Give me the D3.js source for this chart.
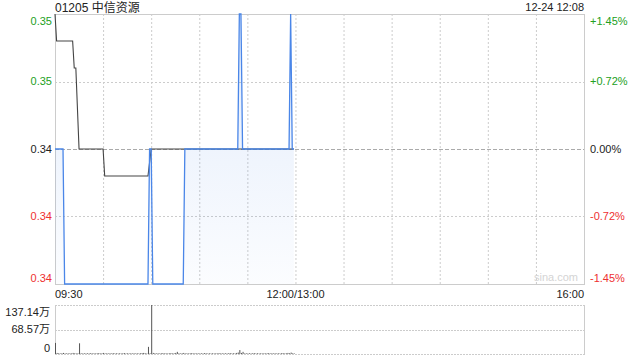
<!DOCTYPE html>
<html>
<head>
<meta charset="utf-8">
<script src="https://cdn.jsdelivr.net/npm/d3@7"></script>
<style>
  html, body { margin: 0; padding: 0; background: #fff; }
  svg text { font-family: Arial, "Liberation Sans", "Noto Sans CJK SC", sans-serif; }
</style>
</head>
<body>
<svg id="chart" width="640" height="360"></svg>
<script>
// ---------- data ----------
const title = "01205 中信资源";
const stamp = "12-24 12:08";
const prevClose = 0.345;
const priceDomain = [0.340, 0.350];
const priceTickValues = [0.350, 0.3475, 0.345, 0.3425, 0.340];
const priceTickLabels = ["0.35", "0.35", "0.34", "0.34", "0.34"];
const pctTickLabels = ["+1.45%", "+0.72%", "0.00%", "-0.72%", "-1.45%"];
const timeLabels = ["09:30", "12:00/13:00", "16:00"];
const volTickValues = [137.14, 68.57, 0];
const volTickLabels = ["137.14万", "68.57万", "0"];

// blue (price) line, change points
const blueTimes = ["09:30","09:35","09:36","10:28","10:29","10:30","10:31","10:50","10:51","11:24","11:25","11:26","11:27","11:56","11:57","11:58","11:59"];
const blueValues = [0.345,0.345,0.340,0.340,0.345,0.345,0.340,0.340,0.345,0.345,0.350,0.350,0.345,0.345,0.350,0.345,0.345];

// dark line, change points
const darkTimes = ["09:30","09:31","09:41","09:42","09:43","09:45","10:00","10:01","10:28","10:30","11:59"];
const darkValues = [0.350,0.349,0.349,0.348,0.348,0.345,0.345,0.344,0.344,0.345,0.345];

// volume per minute from 09:30 (unit: 万)
const volumes = [
  31, 3, 2, 1.5, 2, 3, 1.5, 2, 1.5, 2,
  1.5, 3, 2, 1.5, 2, 30, 2, 1.5, 2, 1.5,
  2, 1.5, 2.5, 1.5, 2, 1.5, 2, 2.5, 1.5, 2,
  3, 1.5, 2, 1.5, 2, 1.5, 2.5, 1.5, 2, 1.5,
  2, 1.5, 2, 2.5, 1.5, 2, 1.5, 2, 1.5, 2,
  1.5, 2, 1.5, 2, 2.5, 3, 2, 1.5, 20, 2,
  137.14, 3, 2, 1.5, 2, 1.5, 2, 2.5, 1.5, 2,
  1.5, 2, 2.5, 1.5, 2, 3, 6, 2, 1.5, 2,
  3, 1.5, 2, 1.5, 2, 2.5, 1.5, 2, 1.5, 2,
  1.5, 2, 1.5, 2.5, 2, 1.5, 2, 1.5, 2, 1.5,
  2, 1.5, 2.5, 1.5, 2, 1.5, 2, 1.5, 2, 2.5,
  1.5, 2, 1.5, 3, 4, 11, 3, 6, 1.5, 2,
  1.5, 2, 1.5, 2, 2.5, 1.5, 2, 1.5, 2, 1.5,
  2, 1.5, 2, 2.5, 1.5, 2, 1.5, 2, 1.5, 2,
  1.5, 2, 2.5, 1.5, 2, 3, 2, 4, 2, 1.5
];

// ---------- helpers ----------
function minuteIndex(t) {
  const [h, m] = t.split(":").map(Number);
  const abs = h * 60 + m;
  const start = 9 * 60 + 30;
  if (abs <= 12 * 60) return abs - start;
  return abs - start - 60;
}

// ---------- layout ----------
const L = 55, R = 584, T = 14, B = 284;
const VT = 305, VB = 354;
const green = "#22a022", red = "#ee3030", dark = "#222";

const svg = d3.select("#chart");
const x = d3.scaleLinear().domain([0, 330]).range([L, R]);
const y = d3.scaleLinear().domain(priceDomain).range([B, T]);
const yv = d3.scaleLinear().domain([0, 137.14]).range([VB, VT]);

// gradient
const defs = svg.append("defs");
const grad = defs.append("linearGradient").attr("id", "fillGrad")
  .attr("x1", 0).attr("y1", 0).attr("x2", 0).attr("y2", 1)
  .attr("gradientUnits", "userSpaceOnUse")
  .attr("x1", 0).attr("y1", T).attr("x2", 0).attr("y2", B);
grad.append("stop").attr("offset", "0%").attr("stop-color", "#4a86e8").attr("stop-opacity", 0.16);
grad.append("stop").attr("offset", "100%").attr("stop-color", "#4a86e8").attr("stop-opacity", 0.02);

// grid - main
const gridTimes = d3.range(30, 330, 30);
svg.append("g").selectAll("line").data(gridTimes).join("line")
  .attr("x1", d => x(d) + 0.5).attr("x2", d => x(d) + 0.5)
  .attr("y1", T).attr("y2", B)
  .attr("stroke", "#ccc").attr("stroke-width", 1).attr("stroke-dasharray", "2,2");
svg.append("g").selectAll("line").data(priceTickValues.slice(1, 4)).join("line")
  .attr("x1", L).attr("x2", R)
  .attr("y1", d => Math.round(y(d)) + 0.5).attr("y2", d => Math.round(y(d)) + 0.5)
  .attr("stroke", d => d === prevClose ? "#aaa" : "#ccc")
  .attr("stroke-width", 1)
  .attr("stroke-dasharray", d => d === prevClose ? "4,2" : "2,2");

// borders main
svg.append("rect").attr("x", L + 0.5).attr("y", T + 0.5).attr("width", R - L).attr("height", B - T)
  .attr("fill", "none").attr("stroke", "#ccc").attr("stroke-width", 1);

// watermark
svg.append("text").attr("x", R - 6).attr("y", B - 3).attr("text-anchor", "end")
  .attr("font-size", 11).attr("fill", "#d4d4d4").text("sina.com");

// area + lines
const bluePts = blueTimes.map((t, i) => [minuteIndex(t), blueValues[i]]);
const darkPts = darkTimes.map((t, i) => [minuteIndex(t), darkValues[i]]);

svg.append("path").datum(bluePts)
  .attr("d", d3.area().x(d => x(d[0])).y0(B).y1(d => y(d[1])))
  .attr("fill", "url(#fillGrad)");

svg.append("path").datum(darkPts)
  .attr("d", d3.line().x(d => x(d[0])).y(d => y(d[1])))
  .attr("fill", "none").attr("stroke", "#444").attr("stroke-width", 1.1);

svg.append("path").datum(bluePts)
  .attr("d", d3.line().x(d => x(d[0])).y(d => y(d[1])))
  .attr("fill", "none").attr("stroke", "#4a86e8").attr("stroke-width", 1.3);

// left / right labels
const clampY = v => Math.max(T + 7, Math.min(B - 6, v));
svg.append("g").selectAll("text").data(priceTickValues).join("text")
  .attr("x", L - 3).attr("y", d => clampY(y(d)))
  .attr("dy", "0.35em").attr("text-anchor", "end").attr("font-size", 11)
  .attr("fill", d => d > prevClose ? green : d < prevClose ? red : dark)
  .text((d, i) => priceTickLabels[i]);
svg.append("g").selectAll("text").data(priceTickValues).join("text")
  .attr("x", R + 6).attr("y", d => clampY(y(d)))
  .attr("dy", "0.35em").attr("text-anchor", "start").attr("font-size", 11)
  .attr("fill", d => d > prevClose ? green : d < prevClose ? red : dark)
  .text((d, i) => pctTickLabels[i]);

// time labels
const tPos = [0, 150, 330];
const tAnchor = ["start", "middle", "end"];
svg.append("g").selectAll("text").data(timeLabels).join("text")
  .attr("x", (d, i) => x(tPos[i])).attr("y", 298)
  .attr("text-anchor", (d, i) => tAnchor[i]).attr("font-size", 11).attr("fill", dark)
  .text(d => d);

// title
svg.append("text").attr("x", L).attr("y", 12).attr("font-size", 12).attr("fill", dark).text(title);
svg.append("text").attr("x", R).attr("y", 11).attr("text-anchor", "end").attr("font-size", 11).attr("fill", dark).text(stamp);

// volume panel
svg.append("g").selectAll("line").data(volTickValues).join("line")
  .attr("x1", L).attr("x2", R)
  .attr("y1", d => Math.round(yv(d)) + 0.5).attr("y2", d => Math.round(yv(d)) + 0.5)
  .attr("stroke", "#ccc").attr("stroke-dasharray", "2,1");
svg.append("line").attr("x1", L + 0.5).attr("x2", L + 0.5).attr("y1", VT).attr("y2", VB + 1).attr("stroke", "#ccc");
svg.append("line").attr("x1", R + 0.5).attr("x2", R + 0.5).attr("y1", VT).attr("y2", VB + 1).attr("stroke", "#ccc");

svg.append("g").selectAll("rect").data(volumes).join("rect")
  .attr("x", (d, i) => x(i))
  .attr("width", 1)
  .attr("y", d => yv(d))
  .attr("height", d => VB - yv(d))
  .attr("fill", "#555");

const clampV = v => Math.max(VT + 7, Math.min(VB - 6, v));
svg.append("g").selectAll("text").data(volTickValues).join("text")
  .attr("x", L - 5).attr("y", d => clampV(yv(d)))
  .attr("dy", "0.35em").attr("text-anchor", "end").attr("font-size", 11).attr("fill", dark)
  .text((d, i) => volTickLabels[i]);
</script>
</body>
</html>
